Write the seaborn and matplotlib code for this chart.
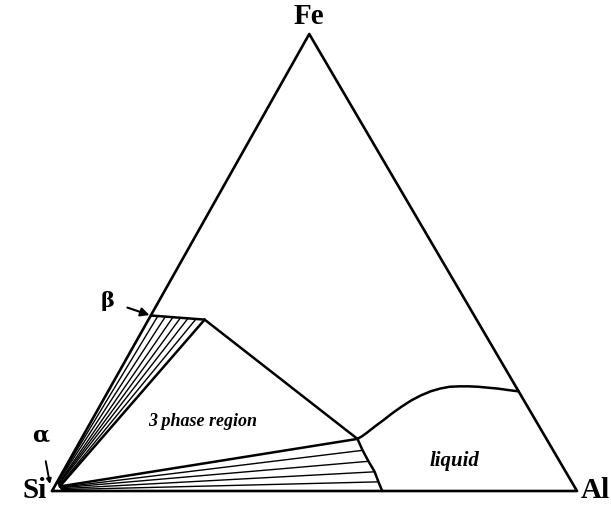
import matplotlib
matplotlib.use("Agg")
import matplotlib.pyplot as plt
import numpy as np
import pandas as pd
import seaborn as sns

# Compositions are given as (Al, Fe) mole fractions; Si is the balance.
APEX_SHIFT = 0.49  # horizontal position of the Fe apex

# Key points of the isothermal section
beta_pt = (0.000, 0.384)      # beta (FeSi2) on the Si-Fe side
cusp_pt = (0.107, 0.375)      # Al-rich end of the beta solubility
liq_pt = (0.526, 0.114)       # liquid corner of the 3-phase triangle
liq_base = (0.629, 0.000)     # liquidus meeting the Si-Al side
liq_edge = (0.782, 0.218)     # liquid boundary meeting the Al-Fe side
alpha_pt = (0.010, 0.010)     # alpha corner of the 3-phase triangle
alpha_edge_al = [0.000, 0.020]
alpha_edge_fe = [0.020, 0.000]

# Beta + alpha tie lines (alpha end -> beta end)
tie_beta_al0 = [0.001, 0.002, 0.004, 0.005, 0.006, 0.008]
tie_beta_fe0 = [0.019, 0.018, 0.016, 0.015, 0.014, 0.012]
tie_beta_al1 = [0.014, 0.029, 0.044, 0.059, 0.074, 0.090]
tie_beta_fe1 = [0.383, 0.382, 0.380, 0.379, 0.378, 0.377]

# Liquid + alpha boundary and tie lines
liq_side_al = [0.526, 0.548, 0.571, 0.594, 0.612, 0.629]
liq_side_fe = [0.114, 0.089, 0.065, 0.042, 0.020, 0.000]
tie_liq_al0 = [0.012, 0.013, 0.015, 0.017]
tie_liq_fe0 = [0.008, 0.007, 0.005, 0.003]
tie_liq_al1 = [0.548, 0.571, 0.594, 0.612]
tie_liq_fe1 = [0.089, 0.065, 0.042, 0.020]

# Upper boundary of the liquid field
liquidus_al = [0.526, 0.532, 0.537, 0.547, 0.556, 0.564, 0.575, 0.587, 0.600,
               0.614, 0.629, 0.645, 0.663, 0.682, 0.701, 0.720, 0.740, 0.760, 0.782]
liquidus_fe = [0.114, 0.120, 0.127, 0.143, 0.156, 0.169, 0.184, 0.198, 0.209,
               0.218, 0.224, 0.228, 0.229, 0.229, 0.228, 0.226, 0.224, 0.221, 0.218]

# Triangle corners: Si, Al, Fe
corner_al = [0.0, 1.0, 0.0, 0.0]
corner_fe = [0.0, 0.0, 1.0, 0.0]


def to_xy(al, fe):
    al = np.asarray(al, dtype=float)
    fe = np.asarray(fe, dtype=float)
    return al + APEX_SHIFT * fe, fe


rows = []


def add_line(group, seg, al, fe):
    x, y = to_xy(al, fe)
    for i, (xi, yi) in enumerate(zip(x, y)):
        rows.append(dict(group=group, seg=seg, order=i, x=xi, y=yi))


add_line("frame", "frame", corner_al, corner_fe)
add_line("bound", "beta_top", [beta_pt[0], cusp_pt[0]], [beta_pt[1], cusp_pt[1]])
add_line("bound", "cusp_liq", [cusp_pt[0], liq_pt[0]], [cusp_pt[1], liq_pt[1]])
add_line("bound", "cusp_alpha", [cusp_pt[0], alpha_pt[0]], [cusp_pt[1], alpha_pt[1]])
add_line("bound", "liq_alpha", [liq_pt[0], alpha_pt[0]], [liq_pt[1], alpha_pt[1]])
add_line("bound", "liq_side", liq_side_al, liq_side_fe)
add_line("bound", "liquidus", liquidus_al, liquidus_fe)
add_line("thin", "alpha_edge", alpha_edge_al, alpha_edge_fe)
for k in range(len(tie_beta_al0)):
    add_line("thin", f"tb{k}", [tie_beta_al0[k], tie_beta_al1[k]],
             [tie_beta_fe0[k], tie_beta_fe1[k]])
for k in range(len(tie_liq_al0)):
    add_line("thin", f"tl{k}", [tie_liq_al0[k], tie_liq_al1[k]],
             [tie_liq_fe0[k], tie_liq_fe1[k]])

df = pd.DataFrame(rows)

sns.set_style("white")
plt.rcParams["font.family"] = ["Liberation Serif", "DejaVu Serif"]
plt.rcParams["text.color"] = "black"

fig = plt.figure(figsize=(6.11, 5.09), dpi=100)
ax = fig.add_axes([0, 0, 1, 1])

for group, lw in [("thin", 1.0), ("bound", 1.8), ("frame", 1.9)]:
    sub = df[df["group"] == group]
    sns.lineplot(data=sub, x="x", y="y", units="seg", estimator=None,
                 sort=False, color="black", linewidth=lw, ax=ax,
                 legend=False, solid_capstyle="round", solid_joinstyle="round")

# Axis limits place the Si corner at (52, 491) px and Al at (577, 491) px
ax.set_xlim(-52 / 525, 559 / 525)
ax.set_ylim(-18 / 457, 491 / 457)
ax.set_axis_off()


def px(xp, yp):
    return (xp - 52) / 525, (491 - yp) / 457


ax.text(*px(309, 16), "Fe", ha="center", va="center", fontsize=21,
        fontweight="bold")
ax.text(*px(47, 490), "Si", ha="right", va="center", fontsize=21,
        fontweight="bold")
ax.text(*px(581, 490), "Al", ha="left", va="center", fontsize=21,
        fontweight="bold", clip_on=False)
ax.text(*px(203, 421), "3 phase region", ha="center", va="center",
        fontsize=13, fontweight="bold", style="italic")
ax.text(*px(454, 461), "liquid", ha="center", va="center",
        fontsize=15, fontweight="bold", style="italic")

bx, by = to_xy(beta_pt[0], beta_pt[1])
ax.annotate("β", xy=(float(bx), float(by)), xytext=px(108, 301),
            ha="center", va="center", fontsize=15, fontweight="bold",
            family=["DejaVu Serif"],
            arrowprops=dict(arrowstyle="-|>", color="black", lw=1.5,
                            shrinkA=7, shrinkB=1, mutation_scale=13))
ax.annotate("α", xy=px(50, 484), xytext=px(41, 436),
            ha="center", va="center", fontsize=16, fontweight="bold",
            family=["DejaVu Serif"],
            arrowprops=dict(arrowstyle="-|>", color="black", lw=1.4,
                            shrinkA=8, shrinkB=0, mutation_scale=7))

fig.savefig("out.png", dpi=100)
